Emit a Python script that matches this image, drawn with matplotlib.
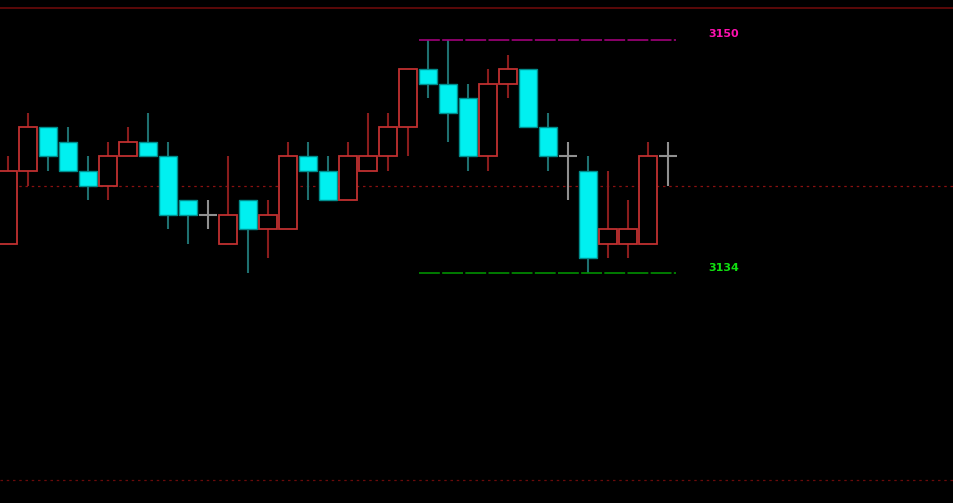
import matplotlib
matplotlib.use("Agg")
import matplotlib.pyplot as plt

# OHLC, one bar per 20 px slot
OPEN = [3136, 3141, 3144, 3143, 3141, 3140, 3142, 3143, 3142, 3139, 3138, 3136,
        3139, 3137, 3137, 3142, 3141, 3139, 3141, 3142, 3144, 3148, 3147, 3146,
        3142, 3147, 3148, 3144, 3142, 3141, 3136, 3136, 3136, 3142]
HIGH = [3142, 3145, 3144, 3144, 3142, 3143, 3144, 3145, 3143, 3139, 3139, 3142,
        3139, 3139, 3143, 3143, 3142, 3143, 3145, 3145, 3148, 3150, 3150, 3147,
        3148, 3149, 3148, 3145, 3143, 3142, 3141, 3139, 3143, 3143]
LOW = [3136, 3140, 3141, 3141, 3139, 3139, 3142, 3142, 3137, 3136, 3137, 3136,
       3134, 3135, 3137, 3139, 3139, 3139, 3141, 3141, 3142, 3146, 3143, 3141,
       3141, 3146, 3144, 3141, 3139, 3134, 3135, 3135, 3136, 3140]
CLOSE = [3141, 3144, 3142, 3141, 3140, 3142, 3143, 3142, 3138, 3138, 3138, 3138,
         3137, 3138, 3142, 3141, 3139, 3142, 3142, 3144, 3148, 3147, 3145, 3142,
         3147, 3148, 3144, 3142, 3142, 3135, 3137, 3137, 3142, 3142]

HI_LEVEL = 3150
LO_LEVEL = 3134
LEVEL_START = 20.55
LEVEL_END = 33.4

UP_EDGE = "#c03030"
UP_WICK = "#8a1c1c"
DN_FILL = "#00f0f0"
DN_EDGE = "#008c8c"
DN_WICK = "#1e7070"
DOJI = "#909090"

fig = plt.figure(figsize=(9.54, 5.03), dpi=100, facecolor="black")
ax = fig.add_axes([0, 0, 1, 1])
ax.set_facecolor("black")

px_per_pt = 14.5625
ax.set_xlim(-8 / 20, (954 - 8) / 20)
ax.set_ylim(HI_LEVEL - 463 / px_per_pt, HI_LEVEL + 40 / px_per_pt)

# frame / grid lines
ax.axhline(HI_LEVEL + 32 / px_per_pt, color="#6a0a0a", lw=1.2)
ax.axhline(3140, color="#8a1010", lw=0.9, ls=(0, (2, 3)))
ax.axhline(HI_LEVEL - 440 / px_per_pt, color="#6a0a0a", lw=0.9, ls=(0, (2, 3)))

for i, (o, h, l, c) in enumerate(zip(OPEN, HIGH, LOW, CLOSE)):
    if c > o:
        ax.vlines(i, l, h, color=UP_WICK, lw=1.5, zorder=2)
        ax.bar(i, c - o, bottom=o, width=0.9, facecolor="black",
               edgecolor=UP_EDGE, linewidth=1.3, zorder=3)
    elif c < o:
        ax.vlines(i, l, h, color=DN_WICK, lw=1.5, zorder=2)
        ax.bar(i, o - c, bottom=c, width=0.9, facecolor=DN_FILL,
               edgecolor=DN_EDGE, linewidth=1.0, zorder=3)
    else:
        ax.vlines(i, l, h, color=DOJI, lw=1.5, zorder=2)
        ax.hlines(o, i - 0.45, i + 0.45, color=DOJI, lw=1.5, zorder=2)

ax.hlines(HI_LEVEL, LEVEL_START, LEVEL_END, color="#a0007a", lw=1.2,
          linestyles=(0, (12.5, 1.4)), zorder=4)
ax.hlines(LO_LEVEL, LEVEL_START, LEVEL_END, color="#009000", lw=1.2,
          linestyles=(0, (12.5, 1.4)), zorder=4)

ax.text(35.0, HI_LEVEL + 0.4, str(HI_LEVEL), color="#ff10b0", fontsize=8,
        fontweight="bold", ha="left", va="center")
ax.text(35.0, LO_LEVEL + 0.35, str(LO_LEVEL), color="#10e010", fontsize=8,
        fontweight="bold", ha="left", va="center")

ax.set_xticks([])
ax.set_yticks([])
for s in ax.spines.values():
    s.set_visible(False)

fig.savefig("out.png", dpi=100, facecolor="black")
